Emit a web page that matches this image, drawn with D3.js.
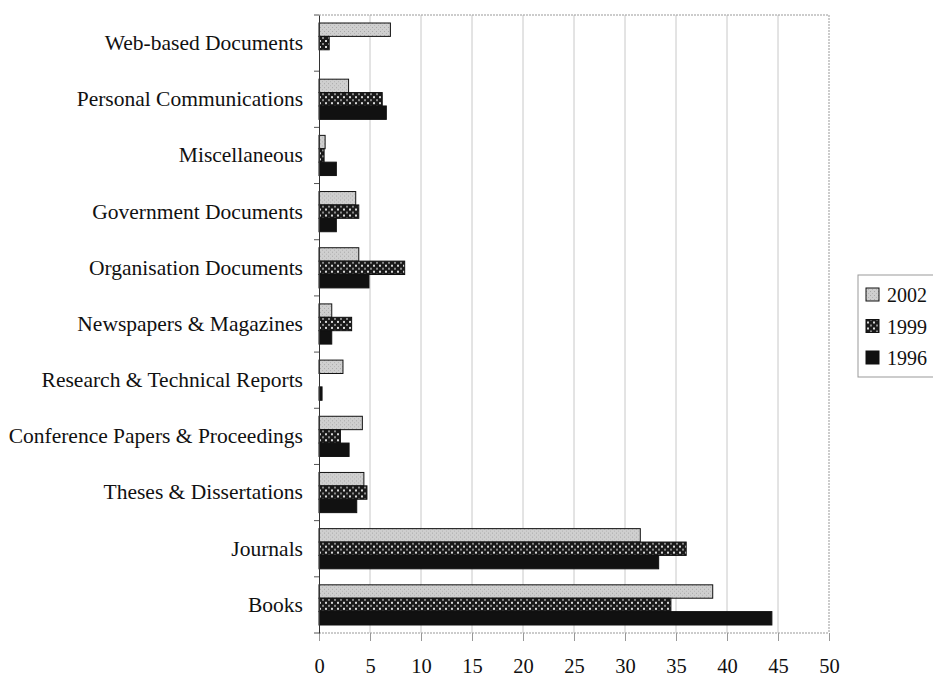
<!DOCTYPE html>
<html>
<head>
<meta charset="utf-8">
<script src="https://cdn.jsdelivr.net/npm/d3@7"></script>
<style>
  body { margin: 0; background: #fff; }
  svg { display: block; font-family: "Liberation Serif", "Times New Roman", serif; }
</style>
</head>
<body>
<div id="chart"></div>
<script>
const categories = [
  'Web-based Documents',
  'Personal Communications',
  'Miscellaneous',
  'Government Documents',
  'Organisation Documents',
  'Newspapers & Magazines',
  'Research & Technical Reports',
  'Conference Papers & Proceedings',
  'Theses & Dissertations',
  'Journals',
  'Books'
];
const series = ['2002', '1999', '1996'];
const values2002 = [7.0, 2.9, 0.6, 3.6, 3.9, 1.25, 2.35, 4.25, 4.4, 31.5, 38.6];
const values1999 = [1.0, 6.2, 0.5, 3.9, 8.4, 3.2, 0, 2.1, 4.7, 36.0, 34.5];
const values1996 = [0, 6.6, 1.7, 1.7, 4.9, 1.25, 0.3, 2.95, 3.7, 33.3, 44.4];
const xTicks = [0, 5, 10, 15, 20, 25, 30, 35, 40, 45, 50];

const seriesValues = { '2002': values2002, '1999': values1999, '1996': values1996 };
const fills = { '2002': 'url(#pat2002)', '1999': 'url(#pat1999)', '1996': '#111' };

const width = 933, height = 680;
const plotLeft = 319, plotRight = 829, plotTop = 15, plotBottom = 633;

const svg = d3.select('#chart').append('svg')
  .attr('width', width)
  .attr('height', height);

const defs = svg.append('defs');

// light grey speckled fill
const p1 = defs.append('pattern')
  .attr('id', 'pat2002')
  .attr('patternUnits', 'userSpaceOnUse')
  .attr('width', 4).attr('height', 4);
p1.append('rect').attr('width', 4).attr('height', 4).attr('fill', '#cfcfcf');
p1.append('rect').attr('x', 0).attr('y', 0).attr('width', 1).attr('height', 1).attr('fill', '#a8a8a8');
p1.append('rect').attr('x', 2).attr('y', 2).attr('width', 1).attr('height', 1).attr('fill', '#b4b4b4');

// dark checker fill
const p2 = defs.append('pattern')
  .attr('id', 'pat1999')
  .attr('patternUnits', 'userSpaceOnUse')
  .attr('width', 6).attr('height', 6);
p2.append('rect').attr('width', 6).attr('height', 6).attr('fill', '#1a1a1a');
p2.append('rect').attr('x', 1).attr('y', 1).attr('width', 2).attr('height', 2).attr('fill', '#d8d8d8');
p2.append('rect').attr('x', 4).attr('y', 4).attr('width', 2).attr('height', 2).attr('fill', '#8a8a8a');

const x = d3.scaleLinear()
  .domain([0, 50])
  .range([plotLeft, plotRight]);

const y = d3.scaleBand()
  .domain(categories)
  .range([plotTop, plotBottom]);

const ySub = d3.scaleBand()
  .domain(series)
  .range([8, y.bandwidth() - 8]);

// gridlines
svg.append('g')
  .selectAll('line')
  .data(xTicks.filter(d => d > 0 && d < 50))
  .join('line')
  .attr('x1', d => x(d)).attr('x2', d => x(d))
  .attr('y1', plotTop).attr('y2', plotBottom)
  .attr('stroke', '#c8c8c8')
  .attr('stroke-width', 1);

// dashed plot frame (top, right, bottom)
const frame = svg.append('g')
  .attr('stroke', '#999')
  .attr('stroke-width', 1)
  .attr('stroke-dasharray', '2,1');
frame.append('line')
  .attr('x1', x(0)).attr('x2', x(50))
  .attr('y1', plotTop).attr('y2', plotTop);
frame.append('line')
  .attr('x1', x(50)).attr('x2', x(50))
  .attr('y1', plotTop).attr('y2', plotBottom);
frame.append('line')
  .attr('x1', x(0)).attr('x2', x(50))
  .attr('y1', plotBottom).attr('y2', plotBottom);

// bars
const groups = svg.append('g')
  .selectAll('g')
  .data(categories)
  .join('g')
  .attr('transform', d => `translate(0,${y(d)})`);

groups.selectAll('rect')
  .data((d, i) => series.map(s => ({ s, v: seriesValues[s][i] })))
  .join('rect')
  .filter(d => d.v > 0)
  .attr('x', x(0))
  .attr('y', d => ySub(d.s))
  .attr('width', d => x(d.v) - x(0))
  .attr('height', ySub.bandwidth())
  .attr('fill', d => fills[d.s])
  .attr('stroke', '#111')
  .attr('stroke-width', 1);

// x axis
const xAxis = svg.append('g')
  .attr('transform', `translate(0,${plotBottom})`)
  .call(d3.axisBottom(x).tickValues(xTicks).tickSize(8).tickFormat(d3.format('d')));
xAxis.select('.domain').remove();
xAxis.selectAll('.tick line').attr('stroke', '#999');
xAxis.selectAll('text')
  .attr('y', 40)
  .attr('dy', 0)
  .attr('fill', '#111')
  .style('font-size', '20.5px')
  .style('font-family', '"Liberation Serif", serif');

// y axis
const yAxis = svg.append('g')
  .attr('transform', `translate(${x(0)},0)`)
  .call(d3.axisLeft(y).tickSize(0).tickPadding(16));
yAxis.select('.domain').attr('stroke', '#333');
yAxis.selectAll('text')
  .attr('fill', '#111')
  .style('font-size', '21.5px')
  .style('font-family', '"Liberation Serif", serif');

// ticks at band boundaries
const bounds = categories.map(c => y(c)).concat([plotBottom]);
svg.append('g')
  .selectAll('line')
  .data(bounds)
  .join('line')
  .attr('x1', x(0) - 5).attr('x2', x(0))
  .attr('y1', d => d).attr('y2', d => d)
  .attr('stroke', '#555');

// legend
const legend = svg.append('g').attr('transform', 'translate(858,275)');
legend.append('rect')
  .attr('width', 90).attr('height', 102)
  .attr('fill', '#fff')
  .attr('stroke', '#999');

const items = legend.selectAll('g')
  .data(series)
  .join('g')
  .attr('transform', (d, i) => `translate(8,${20 + i * 31.5})`);
items.append('rect')
  .attr('x', 0).attr('y', -7)
  .attr('width', 13).attr('height', 13)
  .attr('fill', d => fills[d])
  .attr('stroke', '#111');
items.append('text')
  .attr('x', 21).attr('y', 7)
  .attr('fill', '#111')
  .style('font-size', '20px')
  .text(d => d);
</script>
</body>
</html>
